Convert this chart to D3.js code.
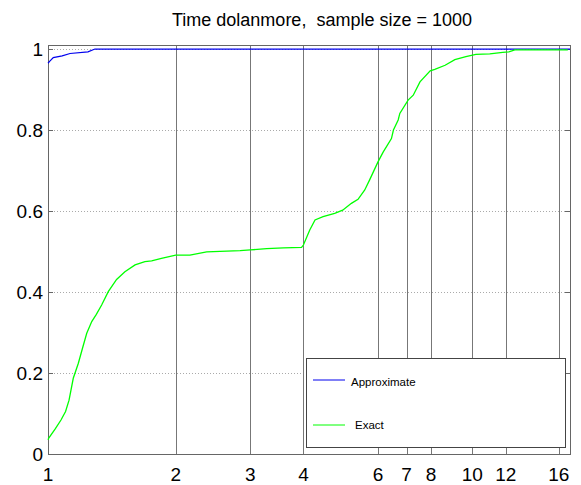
<!DOCTYPE html>
<html>
<head>
<meta charset="utf-8">
<script src="https://cdn.jsdelivr.net/npm/d3@7"></script>
<style>
  body { margin: 0; background: #fff; }
  text { font-family: "Liberation Sans", Arial, sans-serif; }
</style>
</head>
<body>
<svg width="581" height="485"></svg>
<script>
// values
const xTicks = [1, 2, 3, 4, 6, 7, 8, 10, 12, 16];
const yTicks = [0, 0.2, 0.4, 0.6, 0.8, 1];

const approxX = [1.000, 1.010, 1.029, 1.080, 1.127, 1.242, 1.290, 17];
const approxY = [0.965, 0.970, 0.979, 0.983, 0.989, 0.993, 1.000, 1.000];

const exactX = [1.000, 1.005, 1.040, 1.073, 1.100, 1.121, 1.147, 1.179, 1.205, 1.234,
  1.268, 1.300, 1.338, 1.387, 1.451, 1.518, 1.604, 1.692, 1.755, 1.851,
  2.000, 2.160, 2.366, 2.640, 2.837, 3.000, 3.277, 3.590, 3.960, 4.000,
  4.140, 4.260, 4.450, 4.740, 4.950, 5.190, 5.380, 5.580, 5.730, 6.000,
  6.170, 6.450, 6.520, 6.690, 6.750, 7.060, 7.260, 7.530, 7.960, 8.160,
  8.630, 9.100, 9.660, 10.20, 11.00, 11.80, 12.20, 12.60, 16.80];
const exactY = [0.035, 0.040, 0.062, 0.084, 0.105, 0.133, 0.187, 0.224, 0.260, 0.298,
  0.327, 0.345, 0.368, 0.401, 0.431, 0.450, 0.467, 0.475, 0.477, 0.483,
  0.491, 0.491, 0.499, 0.501, 0.502, 0.504, 0.507, 0.509, 0.510, 0.516,
  0.553, 0.578, 0.586, 0.594, 0.602, 0.619, 0.629, 0.652, 0.677, 0.722,
  0.746, 0.779, 0.800, 0.825, 0.841, 0.874, 0.886, 0.919, 0.946, 0.950,
  0.960, 0.974, 0.981, 0.987, 0.988, 0.992, 0.993, 0.998, 0.998];

const seriesNames = ["Approximate", "Exact"];
const seriesColors = ["#0000ee", "#00ff00"];

const svg = d3.select("svg");
const plotLeft = 48, plotRight = 570, plotTop = 45, plotBottom = 454;

const x = d3.scaleLog().base(2).domain([1, 17]).range([plotLeft, plotRight]);
const y = d3.scaleLinear().domain([0, 1.01]).range([plotBottom, plotTop]);

// horizontal dotted grid
svg.append("g")
  .selectAll("line")
  .data(yTicks.filter(d => d > 0))
  .join("line")
  .attr("x1", plotLeft).attr("x2", plotRight)
  .attr("y1", d => Math.round(y(d)) + 0.5).attr("y2", d => Math.round(y(d)) + 0.5)
  .attr("stroke", "#aaa")
  .attr("stroke-dasharray", "1,2");

// vertical solid grid
svg.append("g")
  .selectAll("line")
  .data(xTicks.filter(d => d > 1))
  .join("line")
  .attr("x1", d => Math.round(x(d)) + 0.5).attr("x2", d => Math.round(x(d)) + 0.5)
  .attr("y1", plotTop).attr("y2", plotBottom)
  .attr("stroke", "#777");

// y ticks on both sides
[plotLeft, plotRight].forEach((px, i) => {
  svg.append("g")
    .selectAll("line")
    .data(yTicks)
    .join("line")
    .attr("x1", px).attr("x2", i === 0 ? px + 5 : px - 5)
    .attr("y1", d => Math.round(y(d)) + 0.5).attr("y2", d => Math.round(y(d)) + 0.5)
    .attr("stroke", "#666");
});

// frame
svg.append("rect")
  .attr("x", plotLeft + 0.5).attr("y", plotTop + 0.5)
  .attr("width", plotRight - plotLeft).attr("height", plotBottom - plotTop)
  .attr("fill", "none")
  .attr("stroke", "#666");

const line = d3.line().x(d => x(d[0])).y(d => y(d[1]));

svg.append("path")
  .datum(approxX.map((v, i) => [v, approxY[i]]))
  .attr("d", line)
  .attr("fill", "none")
  .attr("stroke", seriesColors[0])
  .attr("stroke-width", 1.2);

svg.append("path")
  .datum(exactX.map((v, i) => [v, exactY[i]]))
  .attr("d", line)
  .attr("fill", "none")
  .attr("stroke", seriesColors[1])
  .attr("stroke-width", 1.3);

// tick labels
svg.append("g")
  .selectAll("text")
  .data(yTicks)
  .join("text")
  .attr("x", 43)
  .attr("y", d => y(d) + 7)
  .attr("text-anchor", "end")
  .attr("font-size", 19)
  .text(d => d3.format("~g")(d));

svg.append("g")
  .selectAll("text")
  .data(xTicks)
  .join("text")
  .attr("x", d => x(d))
  .attr("y", 481)
  .attr("text-anchor", "middle")
  .attr("font-size", 19)
  .text(d => d);

// title
svg.append("text")
  .attr("x", 322).attr("y", 26)
  .attr("text-anchor", "middle")
  .attr("font-size", 18)
  .attr("xml:space", "preserve")
  .text("Time dolanmore,  sample size = 1000");

// legend
const legend = svg.append("g");
legend.append("rect")
  .attr("x", 306.5).attr("y", 358.5)
  .attr("width", 259).attr("height", 89)
  .attr("fill", "#fff")
  .attr("stroke", "#444");

const legendLineY = [380, 425];
const legendTextY = [385.5, 428.5];
legend.selectAll("g")
  .data(seriesNames)
  .join("g")
  .each(function (name, i) {
    const g = d3.select(this);
    g.append("line")
      .attr("x1", 313).attr("x2", 345)
      .attr("y1", legendLineY[i]).attr("y2", legendLineY[i])
      .attr("stroke", seriesColors[i]);
    g.append("text")
      .attr("x", i === 0 ? 351 : 355).attr("y", legendTextY[i])
      .attr("font-family", "DejaVu Sans")
      .attr("font-size", 11.5)
      .text(name);
  });
</script>
</body>
</html>
